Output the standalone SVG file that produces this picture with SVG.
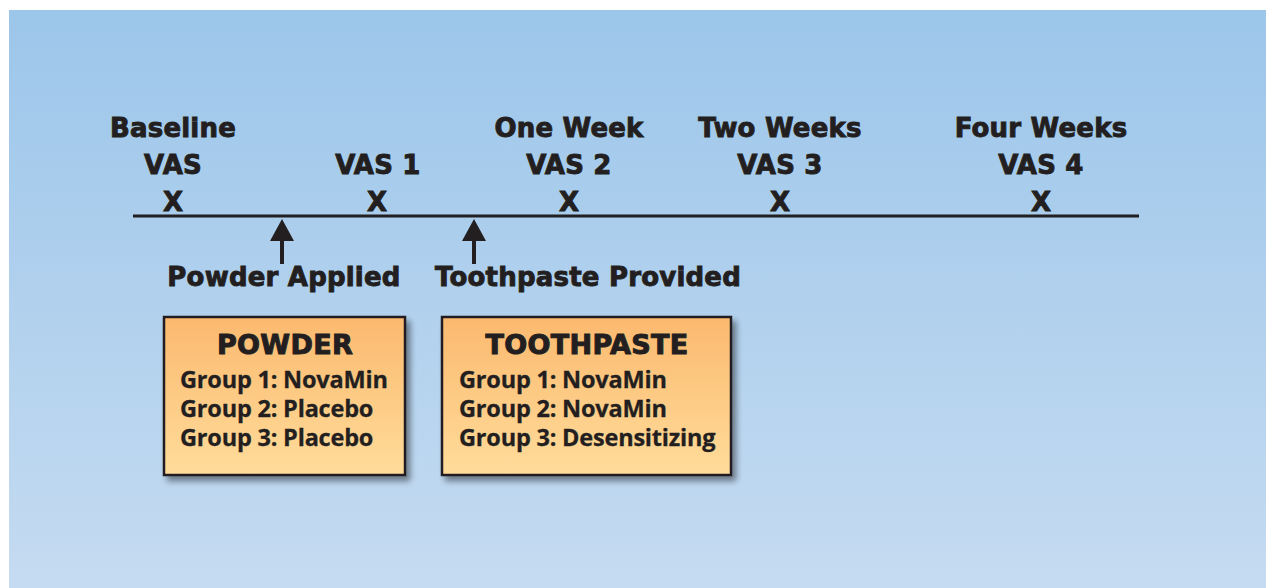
<svg xmlns="http://www.w3.org/2000/svg" width="1266" height="588" viewBox="0 0 1266 588">
<defs>
<linearGradient id="bg" x1="0" y1="0" x2="0" y2="1">
<stop offset="0" stop-color="#9CC6EA"/>
<stop offset="1" stop-color="#C5DBF1"/>
</linearGradient>
<linearGradient id="box" x1="0" y1="0" x2="0" y2="1">
<stop offset="0" stop-color="#FBB96F"/>
<stop offset="1" stop-color="#FFDC9A"/>
</linearGradient>
<filter id="sh" x="-10%" y="-10%" width="130%" height="130%">
<feGaussianBlur in="SourceAlpha" stdDeviation="3"/>
<feOffset dx="4" dy="5" result="b"/>
<feComponentTransfer><feFuncA type="linear" slope="0.45"/></feComponentTransfer>
<feMerge><feMergeNode/><feMergeNode in="SourceGraphic"/></feMerge>
</filter>
</defs>
<style>
.h{font-family:"DejaVu Sans","Liberation Sans",sans-serif;font-weight:bold;font-size:26px;fill:#231F20;stroke:#231F20;stroke-width:0.9;text-anchor:middle;letter-spacing:0.2px}
.g{font-family:"Open Sans","Liberation Sans",sans-serif;font-weight:bold;font-size:23.5px;fill:#231F20;stroke:#231F20;stroke-width:0.3;letter-spacing:-0.2px}
.t{font-family:"DejaVu Sans","Liberation Sans",sans-serif;font-weight:bold;font-size:27px;fill:#231F20;stroke:#231F20;stroke-width:1;text-anchor:middle;letter-spacing:0.3px}
.bx{fill:url(#box);stroke:#231F20;stroke-width:2.5}
.ln{stroke:#231F20;stroke-width:3;fill:none}
</style>
<rect x="9" y="10" width="1257" height="578" fill="url(#bg)"/>
<g id="timeline">
<line class="ln" x1="133" y1="216" x2="1139" y2="216"/>
</g>
<g id="t0">
<text class="h" x="173" y="137">Baseline</text>
<text class="h" x="173" y="174">VAS</text>
<text class="h" x="173" y="211">X</text>
</g>
<g id="t1">
<text class="h" x="378" y="174">VAS 1</text>
<text class="h" x="377" y="211">X</text>
</g>
<g id="t2">
<text class="h" x="569" y="137">One Week</text>
<text class="h" x="569" y="174">VAS 2</text>
<text class="h" x="569" y="211">X</text>
</g>
<g id="t3">
<text class="h" x="780" y="137">Two Weeks</text>
<text class="h" x="780" y="174">VAS 3</text>
<text class="h" x="780" y="211">X</text>
</g>
<g id="t4">
<text class="h" x="1041" y="137">Four Weeks</text>
<text class="h" x="1041" y="174">VAS 4</text>
<text class="h" x="1041" y="211">X</text>
</g>
<g id="connectors">
<path d="M282,264 V241" stroke="#231F20" stroke-width="4"/>
<path d="M270,241 L282,219 L294,241 z" fill="#231F20"/>
<path d="M474,264 V241" stroke="#231F20" stroke-width="4"/>
<path d="M462,241 L474,219 L486,241 z" fill="#231F20"/>
</g>
<g id="powder-applied">
<text class="h" x="284" y="286">Powder Applied</text>
</g>
<g id="toothpaste-provided">
<text class="h" x="588" y="286">Toothpaste Provided</text>
</g>
<g id="powder-box">
<rect class="bx" x="164" y="317" width="241" height="158" filter="url(#sh)"/>
<text class="t" x="285" y="354">POWDER</text>
<text class="g" x="180" y="388">Group 1: NovaMin</text>
<text class="g" x="180" y="417">Group 2: Placebo</text>
<text class="g" x="180" y="446">Group 3: Placebo</text>
</g>
<g id="toothpaste-box">
<rect class="bx" x="442" y="317" width="289" height="158" filter="url(#sh)"/>
<text class="t" x="587" y="354">TOOTHPASTE</text>
<text class="g" x="459" y="388">Group 1: NovaMin</text>
<text class="g" x="459" y="417">Group 2: NovaMin</text>
<text class="g" x="459" y="446">Group 3: Desensitizing</text>
</g>
</svg>
